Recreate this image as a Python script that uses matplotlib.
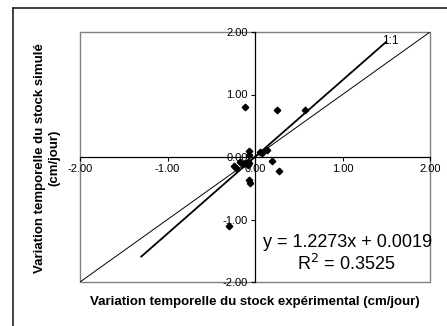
import numpy as np
import matplotlib
matplotlib.use("Agg")
from matplotlib import pyplot as plt
from matplotlib.lines import Line2D
from matplotlib.patches import Rectangle

plt.rcParams['font.family'] = ['Liberation Sans', 'DejaVu Sans']

# points (cm/jour)
x_exp = [-0.11, 0.25, 0.575, -0.30, -0.072, -0.072, 0.057, 0.08, 0.137, 0.194, 0.27,
         -0.17, -0.14, -0.22, -0.24, -0.10, -0.08, -0.065, -0.077, -0.072, -0.06]
y_sim = [0.80, 0.76, 0.76, -1.11, 0.10, 0.03, 0.085, 0.06, 0.11, -0.06, -0.22,
         -0.08, -0.11, -0.17, -0.15, -0.10, -0.085, -0.10, -0.13, -0.36, -0.41]

slope = 1.2273
intercept = 0.0019
r2 = 0.3525
trend_x = [-1.3, 1.5]
one_one = [-2.0, 2.0]
ticks = [-2, -1, 0, 1, 2]

fig = plt.figure(figsize=(4.47, 3.26), dpi=100)
ax = fig.add_axes([80/447, 1-282/326, 350/447, 250/326])

ax.plot(one_one, one_one, color="black", lw=0.7)
tx = np.array(trend_x)
ax.plot(tx, slope*tx + intercept, color="black", lw=1.3)
ax.plot(x_exp, y_sim, linestyle="none", marker="D", color="black", markersize=3.3)

ax.set_xlim(-2, 2)
ax.set_ylim(-2, 2)
ax.set_xticks(ticks)
ax.set_yticks(ticks)
ax.set_xticklabels([f"{t:.2f}" for t in ticks])
ax.set_yticklabels([f"{t:.2f}" for t in ticks])
ax.tick_params(labelsize=8, length=3, width=0.8, pad=2, colors="black")
for lab in ax.get_xticklabels() + ax.get_yticklabels():
    lab.set_color("#333333")

ax.spines['left'].set_position(('data', 0))
ax.spines['bottom'].set_position(('data', 0))
ax.spines['top'].set_visible(False)
ax.spines['right'].set_visible(False)
ax.spines['left'].set_linewidth(0.9)
ax.spines['bottom'].set_linewidth(0.9)
ax.add_patch(Rectangle((0, 0), 1, 1, transform=ax.transAxes, fill=False,
                       edgecolor="#808080", lw=1, clip_on=False))

ax.text(1.55, 1.85, "1:1", fontsize=8.5, ha="center", va="center")
ax.text(0.087, -1.37, f"y = {slope:.4f}x + {intercept:.4f}", fontsize=13,
        ha="left", va="center")
ax.text(1.04, -1.71, f"R$^2$ = {r2:.4f}", fontsize=13, ha="center", va="center")

fig.text(47/447, 1-158/326, "Variation temporelle du stock simulé\n(cm/jour)",
         rotation=90, ha="center", va="center", fontsize=9.5, fontweight="bold",
         multialignment="center")
fig.text(255/447, 1-302/326, "Variation temporelle du stock expérimental (cm/jour)",
         ha="center", va="center", fontsize=9.5, fontweight="bold")

# outer chart frame: only top and left edges are inside the picture
fig.lines.append(Line2D([13/447, 13/447], [0, 1-8/326], transform=fig.transFigure,
                        color="#222222", lw=1.2))
fig.lines.append(Line2D([13/447, 1], [1-8/326, 1-8/326], transform=fig.transFigure,
                        color="#222222", lw=1.2))

fig.savefig("out.png", dpi=100)
